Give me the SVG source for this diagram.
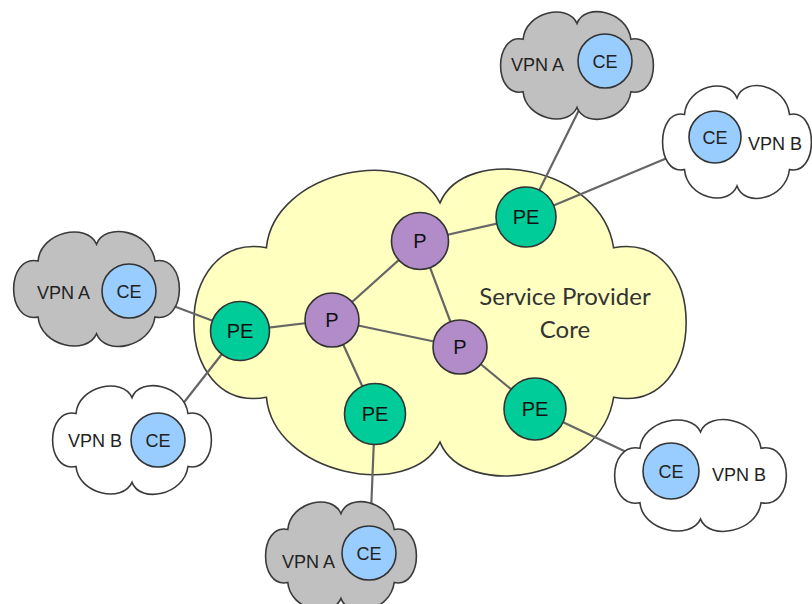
<svg xmlns="http://www.w3.org/2000/svg" xmlns:xlink="http://www.w3.org/1999/xlink" width="812" height="604" viewBox="0 0 812 604">
<style>
.cloud{stroke:#3a3a3a;stroke-width:1.6}
.vpnA{fill:#c0c0c0}
.vpnB{fill:#ffffff}
.core{fill:#ffffc0}
.conn line{stroke:#666666;stroke-width:2.2;stroke-linecap:round}
.pe{fill:#00cc99;stroke:#333333;stroke-width:1.6}
.p{fill:#b28cc8;stroke:#333333;stroke-width:1.6}
.ce{fill:#99ccff;stroke:#333333;stroke-width:1.6}
.nl{font-family:"Liberation Sans",Arial,sans-serif;font-size:20px;fill:#111111;text-anchor:middle}
.cl{font-family:"Liberation Sans",Arial,sans-serif;font-size:18px;fill:#222222;text-anchor:middle}
.vl{font-family:"Liberation Sans",Arial,sans-serif;font-size:18px;fill:#222222}
.sp{font-family:Lato,"Liberation Sans",sans-serif;font-size:24px;fill:#333333;text-anchor:middle}
</style>
<defs>
<path id="cloudShape" vector-effect="non-scaling-stroke" d="M-70,-50 C-67,-102 -12,-120 0,-80 C10,-120 65,-105 70,-50 C109,-62 109,62 70,50 C65,105 10,120 0,80 C-12,120 -67,102 -70,50 C-109,62 -109,-62 -70,-50 Z"/>
</defs>

<g id="core">
<use xlink:href="#cloudShape" class="cloud core" transform="translate(440,322.5) scale(2.48,1.495)"/>
<text class="sp" x="565" y="305">Service Provider</text>
<text class="sp" x="565" y="338">Core</text>
</g>

<g id="connectors" class="conn">
<line x1="526" y1="217" x2="580" y2="108"/>
<line x1="526" y1="217" x2="672" y2="156"/>
<line x1="240" y1="331" x2="168" y2="304"/>
<line x1="240" y1="331" x2="178" y2="410"/>
<line x1="375" y1="414" x2="371" y2="512"/>
<line x1="535" y1="409" x2="637" y2="457"/>
<line x1="526" y1="217" x2="420" y2="241"/>
<line x1="420" y1="241" x2="332" y2="320"/>
<line x1="420" y1="241" x2="460" y2="347"/>
<line x1="332" y1="320" x2="240" y2="331"/>
<line x1="332" y1="320" x2="460" y2="347"/>
<line x1="332" y1="320" x2="375" y2="414"/>
<line x1="460" y1="347" x2="535" y2="409"/>
</g>

<g id="vpnA-top">
<use xlink:href="#cloudShape" class="cloud vpnA" transform="translate(577,65.5) scale(0.77,0.525)"/>
<circle class="ce" cx="605" cy="61" r="27"/>
<text class="cl" x="605" y="67.5">CE</text>
<text class="vl" x="511" y="71">VPN A</text>
</g>

<g id="vpnB-top">
<use xlink:href="#cloudShape" class="cloud vpnB" transform="translate(737,142) scale(0.75,0.55)"/>
<circle class="ce" cx="715" cy="137" r="26"/>
<text class="cl" x="715" y="143.5">CE</text>
<text class="vl" x="748" y="150">VPN B</text>
</g>

<g id="vpnA-left">
<use xlink:href="#cloudShape" class="cloud vpnA" transform="translate(96.5,289) scale(0.835,0.56)"/>
<circle class="ce" cx="129" cy="291" r="27"/>
<text class="cl" x="129" y="297.5">CE</text>
<text class="vl" x="37" y="299">VPN A</text>
</g>

<g id="vpnB-left">
<use xlink:href="#cloudShape" class="cloud vpnB" transform="translate(132,440) scale(0.8,0.53)"/>
<circle class="ce" cx="158" cy="440" r="27"/>
<text class="cl" x="158" y="446.5">CE</text>
<text class="vl" x="68" y="447">VPN B</text>
</g>

<g id="vpnA-bottom">
<use xlink:href="#cloudShape" class="cloud vpnA" transform="translate(341,556) scale(0.76,0.53)"/>
<circle class="ce" cx="369" cy="553" r="27"/>
<text class="cl" x="369" y="559.5">CE</text>
<text class="vl" x="282" y="568">VPN A</text>
</g>

<g id="vpnB-right">
<use xlink:href="#cloudShape" class="cloud vpnB" transform="translate(700.5,475.5) scale(0.865,0.545)"/>
<circle class="ce" cx="671" cy="471" r="28"/>
<text class="cl" x="671" y="477.5">CE</text>
<text class="vl" x="712" y="481">VPN B</text>
</g>

<g id="pe-top"><circle class="pe" cx="526" cy="217" r="30"/><text class="nl" x="526" y="224">PE</text></g>
<g id="pe-left"><circle class="pe" cx="240" cy="331" r="29.5"/><text class="nl" x="240" y="338">PE</text></g>
<g id="pe-bottom"><circle class="pe" cx="375" cy="414" r="30.5"/><text class="nl" x="375" y="421">PE</text></g>
<g id="pe-right"><circle class="pe" cx="535" cy="409" r="31"/><text class="nl" x="535" y="416">PE</text></g>
<g id="p-top"><circle class="p" cx="420" cy="241" r="28.5"/><text class="nl" x="420" y="248">P</text></g>
<g id="p-left"><circle class="p" cx="332" cy="320" r="27"/><text class="nl" x="332" y="327">P</text></g>
<g id="p-right"><circle class="p" cx="460" cy="347" r="27"/><text class="nl" x="460" y="354">P</text></g>
</svg>
